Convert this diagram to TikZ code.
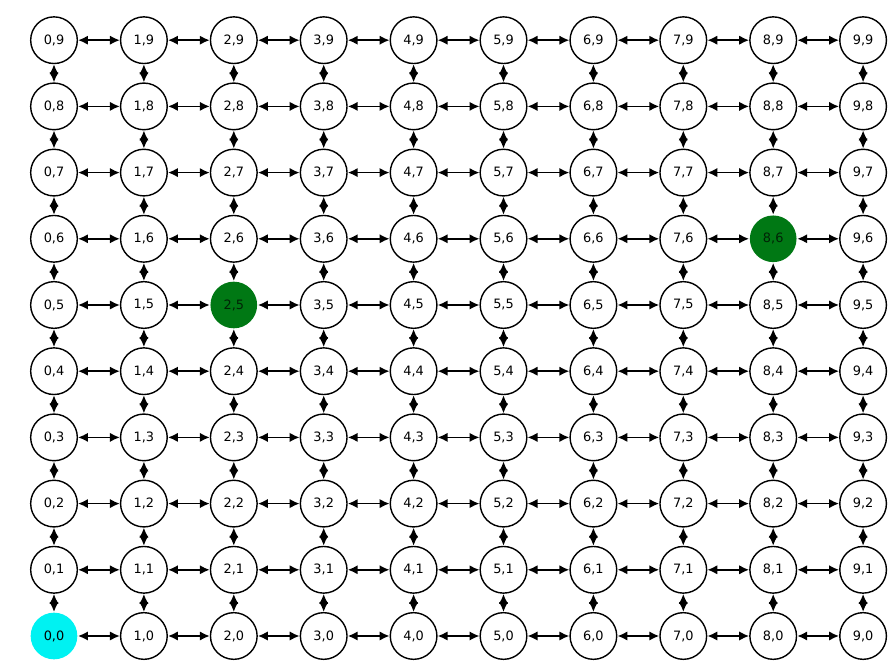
\documentclass[tikz,border=0pt]{standalone}
\usepackage{fontspec}
\setmainfont{DejaVu Sans}
\usepackage{tikz}
\usetikzlibrary{arrows.meta,positioning}
\tikzset{>={Latex[length=8.5pt,width=8pt]}}
\definecolor{goalgreen}{rgb}{0, 0.47, 0.08}
\definecolor{startcyan}{rgb}{0, 0.95, 0.95}
\tikzset{cell/.style={circle, draw=black, line width=1.2pt, fill=white, minimum size=1.4cm,
    inner sep=0pt, font=\fontsize{11}{13}\selectfont}}
\tikzset{link/.style={<->, line width=1.5pt}}
% coloured states
\tikzset{state 0-0/.style={draw=none, fill=startcyan},
  state 2-5/.style={draw=none, fill=goalgreen, text=black!70!goalgreen},
  state 8-6/.style={draw=none, fill=goalgreen, text=black!70!goalgreen}}

\begin{document}
\begin{tikzpicture}[x=0.03cm, y=0.03cm]
  \useasboundingbox (0,0) rectangle (891,671);
  % grid of states
  \foreach \i in {0,...,9}{
    \foreach \j in {0,...,9}{
      \node[cell, state \i-\j/.try] (n-\i-\j) at ({54+89.9*\i}, {35+66.2*\j}) {\i,\j};
    }
  }
  % moves between neighbours
  \foreach \i [evaluate=\i as \k using int(\i+1)] in {0,...,8}{
    \foreach \j in {0,...,9}{
      \draw[link] (n-\i-\j) -- (n-\k-\j);
      \draw[link] (n-\j-\i) -- (n-\j-\k);
    }
  }
\end{tikzpicture}
\end{document}
